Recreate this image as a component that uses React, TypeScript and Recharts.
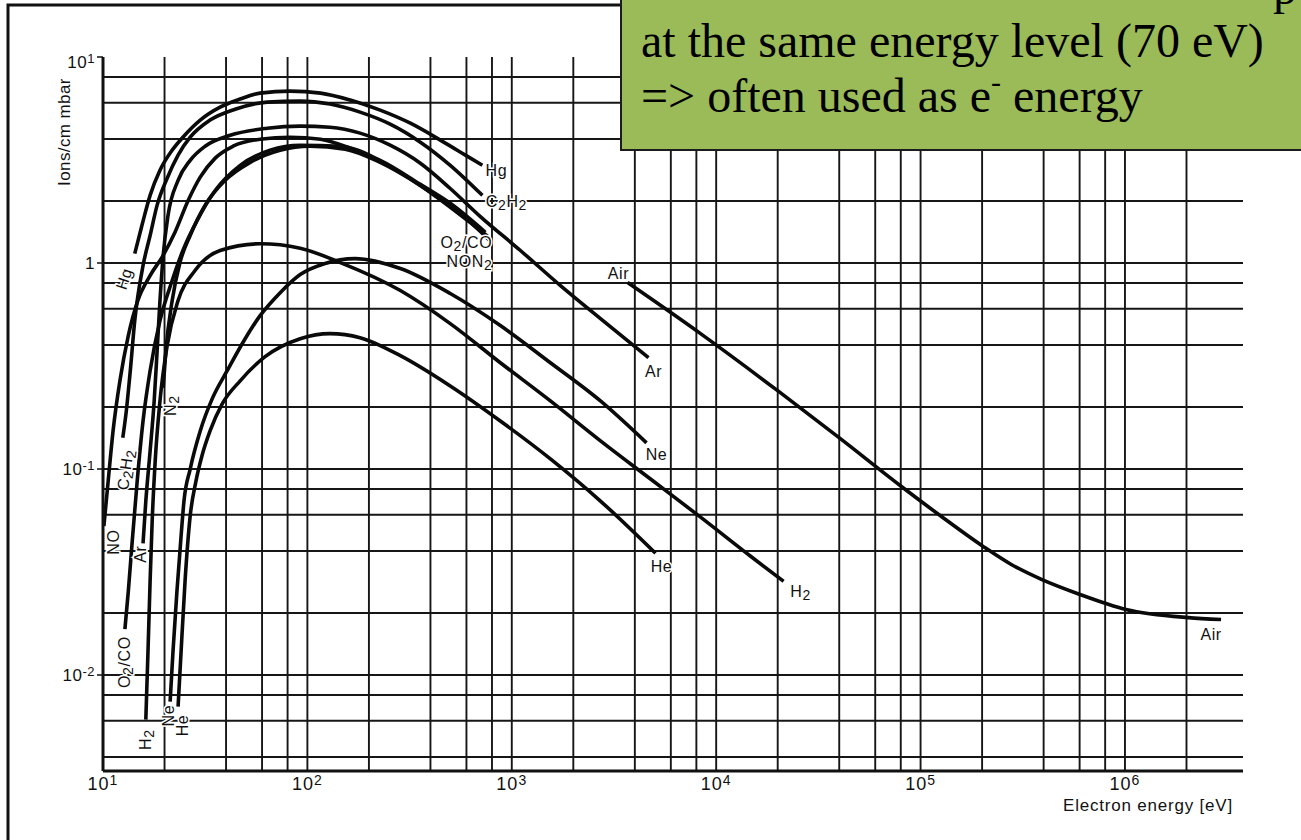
import React from 'react';
import { LineChart, Line, XAxis, YAxis, ReferenceLine, ReferenceDot } from 'recharts';

/* -------------------------------------------------------
   DATA  (electron energy [eV], ions/cm mbar)
-------------------------------------------------------- */
type Pair = [number, number];

const hgCurve: Pair[] = [
  [14.3, 1.11], [15.5, 1.52], [17.0, 2.13], [19.0, 2.82], [21.8, 3.53], [24.6, 4.08],
  [29.9, 4.94], [37.4, 5.71], [46.9, 6.25], [58.7, 6.68], [82.4, 6.83], [116, 6.68],
  [162, 6.18], [227, 5.52], [319, 4.77], [447, 3.95], [593, 3.34], [718, 2.98],
];

const c2h2Curve: Pair[] = [
  [12.5, 0.142], [13.0, 0.191], [13.6, 0.3], [14.3, 0.525], [15.7, 0.972], [17.0, 1.36],
  [18.4, 1.91], [20.6, 2.58], [23.3, 3.34], [26.7, 4.08], [33.4, 4.94], [44.3, 5.58],
  [63.6, 6.04], [92.2, 6.11], [129, 5.91], [181, 5.4], [254, 4.72], [357, 3.86],
  [500, 2.98], [718, 2.13],
];

const arCurve: Pair[] = [
  [15.7, 0.0436], [16.2, 0.0699], [17.0, 0.122], [17.8, 0.214], [18.4, 0.375], [19.0, 0.657],
  [19.7, 1.09], [20.8, 1.7], [23.3, 2.52], [26.7, 3.15], [31.6, 3.69], [41.9, 4.17],
  [63.6, 4.51], [92.2, 4.62], [129, 4.56], [181, 4.27], [254, 3.73], [357, 3.05],
  [500, 2.3], [702, 1.68], [1102, 1.15], [1730, 0.777], [2716, 0.537], [4667, 0.347],
];

const noCurve: Pair[] = [
  [10.1, 0.0528], [10.6, 0.0874], [11.2, 0.153], [12.1, 0.268], [13.3, 0.444], [14.8, 0.657],
  [17.0, 0.869], [19.7, 1.09], [22.5, 1.41], [26.1, 2.01], [29.9, 2.61], [35.4, 3.23],
  [43.3, 3.69], [58.7, 3.99], [82.4, 4.08], [116, 3.99], [162, 3.61], [254, 2.95],
  [399, 2.2], [627, 1.57], [760, 1.35],
];

const n2Curve: Pair[] = [
  [19.7, 0.248], [20.3, 0.375], [21.8, 0.657], [23.8, 1.005], [26.7, 1.36], [31.6, 1.91],
  [39.6, 2.52], [52.5, 3.08], [73.6, 3.53], [103, 3.69], [153, 3.57], [227, 3.08],
  [357, 2.38], [560, 1.74], [777, 1.29],
];

const o2coCurve: Pair[] = [
  [12.8, 0.0167], [13.3, 0.0255], [13.9, 0.0446], [14.7, 0.0874], [15.7, 0.171], [17.0, 0.3],
  [19.0, 0.525], [21.8, 0.822], [24.6, 1.15], [28.9, 1.61], [35.4, 2.25], [46.9, 2.98],
  [65.7, 3.53], [92.2, 3.73], [145, 3.69], [227, 3.15], [357, 2.41], [500, 1.95], [743, 1.41],
];

const neCurve: Pair[] = [
  [21.3, 0.00743], [22.0, 0.013], [23.0, 0.0255], [24.1, 0.0472], [24.9, 0.0699], [26.7, 0.1],
  [29.9, 0.153], [34.2, 0.219], [40.5, 0.3], [49.6, 0.429], [58.7, 0.555], [73.6, 0.718],
  [92.2, 0.879], [122, 0.995], [171, 1.05], [285, 0.94], [500, 0.711], [879, 0.497],
  [1545, 0.328], [2716, 0.214], [4562, 0.134],
];

const h2Curve: Pair[] = [
  [16.2, 0.00607], [16.6, 0.013], [17.0, 0.0285], [17.4, 0.0558], [18.0, 0.109], [19.0, 0.214],
  [20.6, 0.397], [23.3, 0.657], [28.2, 0.919], [37.4, 1.15], [58.7, 1.24], [92.2, 1.18],
  [145, 1.005], [285, 0.735], [500, 0.508], [879, 0.328], [1545, 0.214], [2716, 0.137],
  [4773, 0.0894], [8386, 0.0584], [14740, 0.0377], [21380, 0.0285],
];

const heCurve: Pair[] = [
  [23.3, 0.00703], [24.1, 0.013], [25.2, 0.0285], [26.7, 0.0591], [28.5, 0.0874], [30.5, 0.116],
  [33.4, 0.153], [38.3, 0.207], [46.9, 0.268], [62.1, 0.351], [92.2, 0.429], [129, 0.454],
  [181, 0.434], [285, 0.355], [500, 0.253], [879, 0.171], [1545, 0.112], [2716, 0.0699],
  [5050, 0.039],
];

const airCurve: Pair[] = [
  [3682, 0.804], [8386, 0.454], [19990, 0.24], [40660, 0.14], [80000, 0.0827],
  [125600, 0.0591], [201600, 0.0422], [276500, 0.0345], [387800, 0.0292], [602000, 0.0246],
  [1011000, 0.0208], [2035000, 0.019], [2952000, 0.0186],
];

const gases: { name: string; curve: Pair[] }[] = [
  { name: 'Hg', curve: hgCurve },
  { name: 'C2H2', curve: c2h2Curve },
  { name: 'Ar', curve: arCurve },
  { name: 'NO', curve: noCurve },
  { name: 'N2', curve: n2Curve },
  { name: 'O2/CO', curve: o2coCurve },
  { name: 'Ne', curve: neCurve },
  { name: 'H2', curve: h2Curve },
  { name: 'He', curve: heCurve },
  { name: 'Air', curve: airCurve },
];

// axis ticks + the 2/4/6/8 grid of the log paper
const xTicks = [10, 100, 1000, 10000, 100000, 1000000];
const xTickExp = ['1', '2', '3', '4', '5', '6'];
const yTicks = [0.01, 0.1, 1, 10];
const yTickText: [string, string][] = [['10', '-2'], ['10', '-1'], ['1', ''], ['10', '1']];

const xGrid = [
  20, 40, 60, 80, 100, 200, 400, 600, 800, 1000, 2000, 4000, 6000, 8000, 10000,
  20000, 40000, 60000, 80000, 100000, 200000, 400000, 600000, 800000, 1000000, 2000000,
];
const yGrid = [
  0.004, 0.006, 0.008, 0.01, 0.02, 0.04, 0.06, 0.08, 0.1, 0.2, 0.4, 0.6, 0.8, 1, 2, 4, 6, 8,
];

/* -------------------------------------------------------
   CURVE LABELS (placed next to a curve's first / last point)
-------------------------------------------------------- */
type Spot = { gas: string; at: 'start' | 'end'; text: string; dx: number; dy: number; rot: number };

const curveLabels: Spot[] = [
  { gas: 'Hg', at: 'start', text: 'Hg', dx: -11, dy: 25, rot: -72 },
  { gas: 'C2H2', at: 'start', text: 'C_2H_2', dx: 2, dy: 32, rot: -82 },
  { gas: 'NO', at: 'start', text: 'NO', dx: 9, dy: 16, rot: -90 },
  { gas: 'Ar', at: 'start', text: 'Ar', dx: -3, dy: 11, rot: -90 },
  { gas: 'O2/CO', at: 'start', text: 'O_2/CO', dx: -1, dy: 33, rot: -90 },
  { gas: 'N2', at: 'start', text: 'N_2', dx: 7, dy: 18, rot: -90 },
  { gas: 'H2', at: 'start', text: 'H_2', dx: -1, dy: 20, rot: -90 },
  { gas: 'Ne', at: 'start', text: 'Ne', dx: -2, dy: 14, rot: -90 },
  { gas: 'He', at: 'start', text: 'He', dx: 4, dy: 19, rot: -90 },
  { gas: 'Hg', at: 'end', text: 'Hg', dx: 14, dy: 5, rot: 0 },
  { gas: 'C2H2', at: 'end', text: 'C_2H_2', dx: 24, dy: 6, rot: 0 },
  { gas: 'O2/CO', at: 'end', text: 'O_2/CO', dx: -19, dy: 10, rot: 0 },
  { gas: 'O2/CO', at: 'end', text: 'NON_2', dx: -16, dy: 29, rot: 0 },
  { gas: 'Ar', at: 'end', text: 'Ar', dx: 5, dy: 13, rot: 0 },
  { gas: 'Ne', at: 'end', text: 'Ne', dx: 10, dy: 11, rot: 0 },
  { gas: 'He', at: 'end', text: 'He', dx: 6, dy: 13, rot: 0 },
  { gas: 'H2', at: 'end', text: 'H_2', dx: 17, dy: 10, rot: 0 },
  { gas: 'Air', at: 'start', text: 'Air', dx: -9, dy: -10, rot: 0 },
  { gas: 'Air', at: 'end', text: 'Air', dx: -10, dy: 15, rot: 0 },
];

/* -------------------------------------------------------
   HELPERS
-------------------------------------------------------- */
const SANS = "'Liberation Sans', Arial, Helvetica, sans-serif";
const SERIF = "'Liberation Serif', 'Times New Roman', serif";
const INK = '#111';

// "C_2H_2" -> C, subscript 2, H, subscript 2
const richText = (t: string, shift: number, subSize: number) => {
  const parts = t.split(/(_\d)/).filter(Boolean);
  let lowered = false;
  return parts.map((p, i) => {
    if (p.startsWith('_')) {
      const dy = lowered ? 0 : shift;
      lowered = true;
      return <tspan key={i} dy={dy} fontSize={subSize}>{p[1]}</tspan>;
    }
    const dy = lowered ? -shift : 0;
    lowered = false;
    return <tspan key={i} dy={dy}>{p}</tspan>;
  });
};

const CurveLabel = ({ cx, cy, spot }: { cx: number; cy: number; spot: Spot }) => {
  if (cx == null || cy == null) return null;
  return (
    <text
      transform={`translate(${cx + spot.dx},${cy + spot.dy}) rotate(${spot.rot})`}
      textAnchor="middle"
      dominantBaseline="central"
      fontFamily={SANS}
      fontSize={16}
      letterSpacing={0.6}
      fill={INK}
      stroke="#fff"
      strokeWidth={3}
      paintOrder="stroke"
    >
      {richText(spot.text, 4, 14)}
    </text>
  );
};

const XTick = ({ x, y, payload }: any) => {
  const i = xTicks.indexOf(payload.value);
  return (
    <text x={x} y={y + 11} textAnchor="middle" fontFamily={SANS} fontSize={18} letterSpacing={1} fill={INK}>
      10<tspan dy={-5} fontSize={14}>{xTickExp[i]}</tspan>
    </text>
  );
};

const YTick = ({ x, y, payload }: any) => {
  const i = yTicks.indexOf(payload.value);
  const [base, exp] = yTickText[i];
  const nudge = payload.value === 10 ? 5 : 0;
  return (
    <text x={x} y={y + 6 + nudge} textAnchor="end" fontFamily={SANS} fontSize={17} letterSpacing={0.5} fill={INK}>
      {base}
      {exp && <tspan dy={-5} fontSize={13}>{exp}</tspan>}
    </text>
  );
};

/* -------------------------------------------------------
   COMPONENT
-------------------------------------------------------- */
export default function App() {
  const series = gases.map(g => ({ name: g.name, data: g.curve.map(([e, v]) => ({ e, v })) }));

  return (
    <div style={{ position: 'absolute', left: 0, top: 0, width: 1301, height: 840, background: '#fff', overflow: 'hidden' }}>
      <LineChart
        width={1301}
        height={840}
        margin={{ top: 57, right: 58, bottom: 29, left: 43 }}
        style={{ position: 'absolute', left: 0, top: 0 }}
      >
        <XAxis
          type="number"
          dataKey="e"
          scale="log"
          domain={[10, 3780000]}
          allowDataOverflow
          ticks={xTicks}
          height={40}
          axisLine={{ stroke: INK, strokeWidth: 3 }}
          tickLine={false}
          tick={<XTick />}
        />
        <YAxis
          type="number"
          dataKey="v"
          scale="log"
          domain={[0.00342, 10]}
          allowDataOverflow
          ticks={yTicks}
          width={60}
          axisLine={{ stroke: INK, strokeWidth: 3 }}
          tickLine={{ stroke: INK, strokeWidth: 1.5 }}
          tickSize={6}
          tick={<YTick />}
        />

        {xGrid.map(v => (
          <ReferenceLine key={`gx${v}`} x={v} stroke="#161616" strokeWidth={1.9} />
        ))}
        {yGrid.map(v => (
          <ReferenceLine key={`gy${v}`} y={v} stroke="#161616" strokeWidth={1.9} />
        ))}

        {series.map(s => (
          <Line
            key={s.name}
            name={s.name}
            data={s.data}
            dataKey="v"
            type="monotone"
            stroke="#0a0a0a"
            strokeWidth={3.6}
            dot={false}
            activeDot={false}
            isAnimationActive={false}
          />
        ))}

        {curveLabels.map((s, i) => {
          const g = gases.find(x => x.name === s.gas)!;
          const [e, v] = s.at === 'start' ? g.curve[0] : g.curve[g.curve.length - 1];
          return (
            <ReferenceDot
              key={`lbl${i}`}
              x={e}
              y={v}
              r={0}
              ifOverflow="visible"
              shape={(p: any) => <CurveLabel cx={p.cx} cy={p.cy} spot={s} />}
            />
          );
        })}
      </LineChart>

      {/* slide frame, axis titles and the green call-out box */}
      <svg width={1301} height={840} style={{ position: 'absolute', left: 0, top: 0, pointerEvents: 'none' }}>
        <path d="M8,840 V5 H700" stroke={INK} strokeWidth={3} fill="none" />
        <text
          transform="translate(64,132) rotate(-90)"
          textAnchor="middle"
          dominantBaseline="central"
          fontFamily={SANS}
          fontSize={17}
          letterSpacing={0.4}
          fill={INK}
        >
          Ions/cm mbar
        </text>
        <text x={1063} y={811} fontFamily={SANS} fontSize={17} letterSpacing={0.8} fill={INK}>
          Electron energy [eV]
        </text>

        <rect x={621} y={-6} width={700} height={156} fill="#9bbb59" stroke="#1c1c1c" strokeWidth={2} />
        <text x={1297} y={4} textAnchor="end" fontFamily={SERIF} fontSize={48} fill="#000">p</text>
        <text x={641} y={57} fontFamily={SERIF} fontSize={48} fill="#000">
          at the same energy level (70 eV)
        </text>
        <text x={641} y={112} fontFamily={SERIF} fontSize={48} fill="#000">
          {'=> often used as e'}
          <tspan dy={-20} fontSize={30}>-</tspan>
          <tspan dy={20}> energy</tspan>
        </text>
      </svg>
    </div>
  );
}
